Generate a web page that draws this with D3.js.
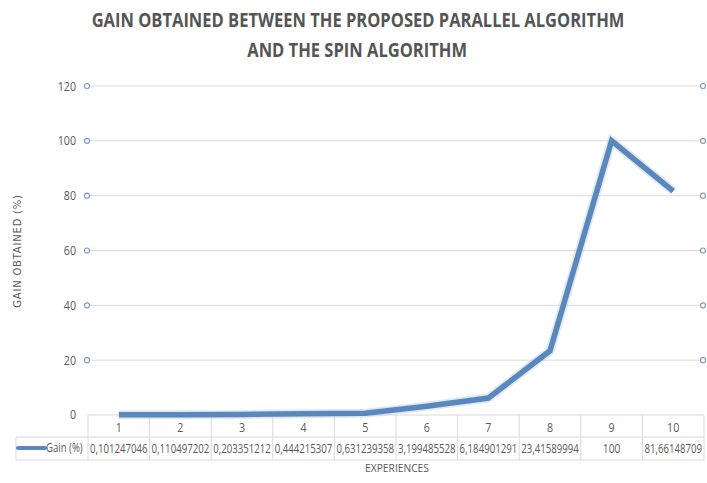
<!DOCTYPE html>
<html lang="en">
<head>
    <meta charset="UTF-8">
    <title>Gain obtained</title>
    <script src="https://d3js.org/d3.v7.min.js"></script>
    <style>
        body {
            margin: 0;
            background: #fff;
        }
        svg text {
            font-family: "Liberation Sans Narrow", "Open Sans", Arial, sans-serif;
        }
    </style>
</head>
<body>
    <svg width="707" height="483"></svg>

    <script>
        const experiences = ["1", "2", "3", "4", "5", "6", "7", "8", "9", "10"];
        const gain = [0.101247046, 0.110497202, 0.203351212, 0.444215307, 0.631239358,
                      3.199485528, 6.184901291, 23.41589994, 100, 81.66148709];
        const gainLabels = ["0,101247046", "0,110497202", "0,203351212", "0,444215307", "0,631239358",
                            "3,199485528", "6,184901291", "23,41589994", "100", "81,66148709"];
        const yTicks = [0, 20, 40, 60, 80, 100, 120];

        const svg = d3.select("svg");
        const plotLeft = 88, plotRight = 704, plotTop = 86, plotBottom = 415;
        const lineColor = "#5a88bd";
        const textColor = "#595959";

        const x = d3.scaleBand().domain(experiences).range([plotLeft, plotRight]);
        const y = d3.scaleLinear().domain([0, 120]).range([plotBottom, plotTop]);

        // narrow text: each label sits in its own group squeezed horizontally
        function narrowText(parent, px, py, str, size, ratio, anchor, maxW) {
            const g = parent.append("g");
            const t = g.append("text")
                .attr("dy", "0.35em")
                .attr("text-anchor", anchor)
                .style("font-size", size + "px")
                .attr("fill", textColor)
                .text(str);
            let s = ratio;
            if (maxW) s = Math.min(ratio, maxW / t.node().getComputedTextLength());
            g.attr("transform", `translate(${px},${py}) scale(${s},1)`);
            return t;
        }

        // title, drawn narrow with a horizontal scale
        const title = svg.append("g")
            .attr("transform", "translate(358,0) scale(0.87,1)")
            .style("font-weight", "bold")
            .style("font-size", "19px")
            .attr("fill", "#555");
        title.append("text").attr("x", 0).attr("y", 27).attr("text-anchor", "middle")
            .text("GAIN OBTAINED BETWEEN THE PROPOSED PARALLEL ALGORITHM");
        title.append("text").attr("x", -1).attr("y", 57).attr("text-anchor", "middle")
            .text("AND THE SPIN ALGORITHM");

        // gridlines
        svg.append("g").selectAll("line")
            .data(yTicks.filter(d => d > 0))
            .enter().append("line")
            .attr("x1", plotLeft).attr("x2", plotRight - 1)
            .attr("y1", d => y(d)).attr("y2", d => y(d))
            .attr("stroke", "#d9d9d9").attr("stroke-width", 1);

        // little circle markers on both sides
        [plotLeft - 1, plotRight - 1].forEach(cx => {
            svg.append("g").selectAll("circle")
                .data(yTicks.filter(d => d > 0))
                .enter().append("circle")
                .attr("cx", cx).attr("cy", d => y(d)).attr("r", 2.5)
                .attr("fill", "#fff").attr("stroke", "#7d9fc2").attr("stroke-width", 1.2);
        });

        // y tick labels
        const yLab = svg.append("g");
        yTicks.forEach(d => {
            narrowText(yLab, 76, d === 0 ? y(d) - 1 : y(d), d, 13, 0.82, "end");
        });

        // y axis title
        svg.append("text")
            .attr("transform", "translate(21,251) rotate(-90)")
            .attr("text-anchor", "middle")
            .style("font-family", "'DejaVu Sans', sans-serif")
            .style("font-size", "10px")
            .style("letter-spacing", "0.8px")
            .attr("fill", textColor)
            .text("GAIN OBTAINED (%)");

        // data table
        const rowTop = plotBottom, rowMid = 437, rowBot = 460, tableLeft = 16;
        const tg = svg.append("g");
        const border = "#d9d9d9";
        tg.append("line").attr("x1", plotLeft).attr("x2", plotRight).attr("y1", rowTop).attr("y2", rowTop)
            .attr("stroke", border);
        tg.append("line").attr("x1", tableLeft).attr("x2", plotRight).attr("y1", rowMid).attr("y2", rowMid)
            .attr("stroke", border);
        tg.append("line").attr("x1", tableLeft).attr("x2", plotRight).attr("y1", rowBot).attr("y2", rowBot)
            .attr("stroke", border);
        tg.append("line").attr("x1", tableLeft).attr("x2", tableLeft).attr("y1", rowMid).attr("y2", rowBot)
            .attr("stroke", border);
        tg.selectAll(".vsep")
            .data(experiences)
            .enter().append("line")
            .attr("class", "vsep")
            .attr("x1", d => x(d)).attr("x2", d => x(d))
            .attr("y1", rowTop).attr("y2", rowBot)
            .attr("stroke", border);
        tg.append("line").attr("x1", plotRight).attr("x2", plotRight).attr("y1", rowTop).attr("y2", rowBot)
            .attr("stroke", border);

        experiences.forEach((d, i) => {
            const cx = x(d) + x.bandwidth() / 2;
            narrowText(tg, cx, (rowTop + rowMid) / 2 + 1, d, 13, 0.82, "middle");
            narrowText(tg, cx, (rowMid + rowBot) / 2, gainLabels[i], 12, 0.85, "middle", x.bandwidth() - 4);
        });

        // legend key in table
        tg.append("line")
            .attr("x1", 18).attr("x2", 45).attr("y1", 448).attr("y2", 448)
            .attr("stroke", lineColor).attr("stroke-width", 4).attr("stroke-linecap", "round");
        narrowText(tg, 46, 448, "Gain (%)", 12, 0.8, "start", 38);

        // x axis title
        narrowText(svg, 397, 468, "EXPERIENCES", 11, 1, "middle", 64);

        // the line
        const line = d3.line()
            .x((d, i) => x(experiences[i]) + x.bandwidth() / 2)
            .y(d => y(d));

        svg.append("path")
            .datum(gain)
            .attr("d", line)
            .attr("fill", "none")
            .attr("stroke", "#b7cde4")
            .attr("stroke-width", 9)
            .attr("stroke-opacity", 0.45)
            .attr("stroke-linejoin", "miter");
        svg.append("path")
            .datum(gain)
            .attr("d", line)
            .attr("fill", "none")
            .attr("stroke", lineColor)
            .attr("stroke-width", 5.5)
            .attr("stroke-linejoin", "miter");
    </script>
</body>
</html>
